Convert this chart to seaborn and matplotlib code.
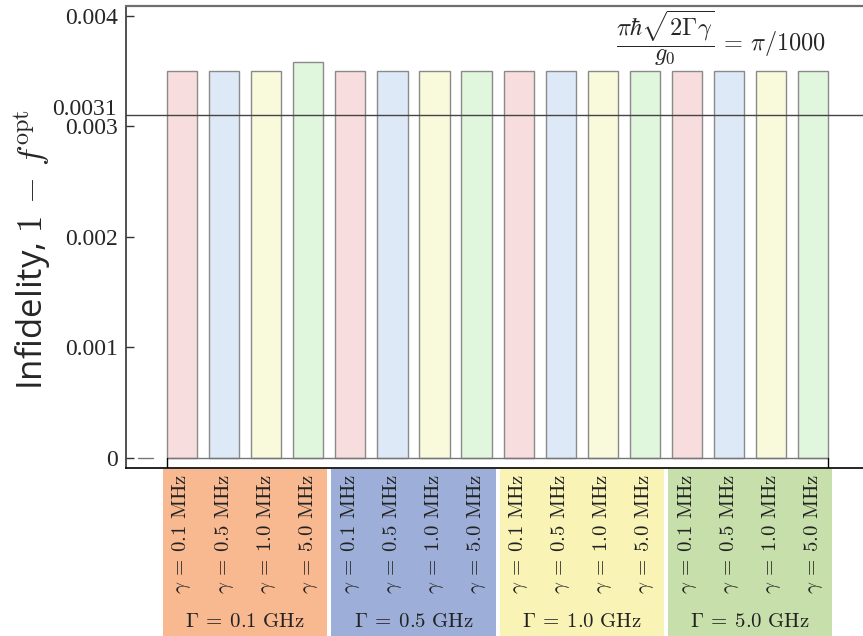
import matplotlib
matplotlib.use("Agg")
import matplotlib.pyplot as plt
import matplotlib.transforms as mtransforms
from matplotlib.patches import Rectangle
import seaborn as sns
import pandas as pd

# ---- data ----
big_gamma = ["0.1", "0.5", "1.0", "5.0"]          # Gamma, GHz
small_gamma = ["0.1", "0.5", "1.0", "5.0"]        # gamma, MHz
infidelity = [0.00350, 0.00350, 0.00350, 0.00358,
              0.00350, 0.00350, 0.00350, 0.00350,
              0.00350, 0.00350, 0.00350, 0.00350,
              0.00350, 0.00350, 0.00350, 0.00350]
y_ticks = [0, 0.001, 0.002, 0.003, 0.004]
y_tick_labels = ["0", "0.001", "0.002", "0.003", "0.004"]
reference_level = 0.0031
reference_label = "0.0031"

bar_colors = ["#fcd9da", "#dae9fb", "#fefed6", "#dcfbda"]
group_colors = ["#f8b991", "#9dafd8", "#f9f4b6", "#c7dfaa"]

rows = []
k = 0
for G in big_gamma:
    for g in small_gamma:
        rows.append({"idx": str(k), "Gamma": G, "gamma": g, "infidelity": infidelity[k]})
        k += 1
df = pd.DataFrame(rows)

sns.set_theme(style="white")
plt.rcParams["mathtext.fontset"] = "cm"
plt.rcParams["axes.unicode_minus"] = True

fig = plt.figure(figsize=(8.63, 6.36), dpi=100)
W, H = 863, 636
ax = fig.add_axes([126 / W, 1 - 468 / H, 742 / W, 462 / H])

sns.barplot(data=df, x="idx", y="infidelity", hue="gamma", order=[str(i) for i in range(16)],
            palette=bar_colors, dodge=False, width=0.72, edgecolor="#8a8a8a",
            linewidth=1.0, ax=ax, legend=False, zorder=2)

ax.set_xlim(-1.33, 16.3)
ax.set_ylim(-0.0000905, 0.00409)

# spines
for side in ["top", "left", "bottom", "right"]:
    ax.spines[side].set_visible(True)
ax.spines["top"].set_color("#6e6e6e")
ax.spines["top"].set_linewidth(1.6)
ax.spines["left"].set_color("#333333")
ax.spines["left"].set_linewidth(1.2)
ax.spines["bottom"].set_color("black")
ax.spines["bottom"].set_linewidth(1.2)
ax.spines["right"].set_visible(False)

serif = ["Liberation Serif", "DejaVu Serif"]

# y ticks
ax.set_yticks(y_ticks)
ax.set_yticklabels(y_tick_labels, fontfamily=serif, fontsize=17)
ax.tick_params(axis="y", direction="in", length=6, width=1.0, color="#333333", pad=6, left=True)
ax.set_xticks([])
ax.set_xlabel("")

# reference line and its label
ax.axhline(reference_level, color="#444444", lw=1.0, zorder=3)
ax.text(-0.012, reference_level, reference_label,
        transform=mtransforms.blended_transform_factory(ax.transAxes, ax.transData),
        ha="right", va="baseline", fontfamily=serif, fontsize=17)

# zero baseline and frame under the bars
x0, x1 = -0.36, 15.36
ymin = ax.get_ylim()[0]
ax.plot([x0, x1], [0, 0], color="#777777", lw=1.0, zorder=3)
ax.plot([-1.05, -0.7], [0, 0], color="#777777", lw=1.0, zorder=3)
ax.plot([x0, x0], [ymin, 0], color="black", lw=1.0, zorder=3)
ax.plot([x1, x1], [ymin, 0], color="black", lw=1.0, zorder=3)

# y label
ax.set_ylabel(r"Infidelity, $1\,-\,f^{\mathrm{opt}}$", fontfamily="Open Sans", fontsize=25)
ax.yaxis.set_label_coords(-0.098, 0.474)

# formula
fig.text(826 / W, 1 - 38 / H, r"$\dfrac{\pi\hbar\sqrt{2\Gamma\gamma}}{g_0}\,=\,\pi/1000$",
         ha="right", va="center", fontsize=17.5)

# category boxes and labels below the axis
trans = mtransforms.blended_transform_factory(ax.transData, fig.transFigure)
box_top = 1 - 469 / H
for gi, G in enumerate(big_gamma):
    left = 4 * gi - 0.45
    rect = Rectangle((left, 0), 3.9, box_top, transform=trans, facecolor=group_colors[gi],
                     edgecolor="none", clip_on=False, zorder=0)
    fig.add_artist(rect)
    fig.text(4 * gi + 1.5, 1 - 621 / H, r"$\Gamma\:=\:%s\ \mathrm{GHz}$" % G, transform=trans,
             ha="center", va="center", fontsize=15, color="#222222")
    for j, g in enumerate(small_gamma):
        fig.text(4 * gi + j, 1 - 474 / H, r"$\gamma\:=\:%s\ \mathrm{MHz}$" % g, transform=trans,
                 rotation=90, ha="center", va="top", fontsize=15, color="#222222")

fig.savefig("out.png", dpi=100)
